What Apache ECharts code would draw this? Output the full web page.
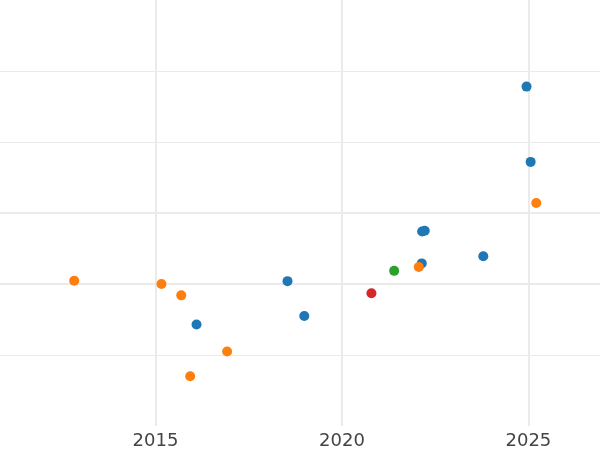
<!DOCTYPE html>
<html><head><meta charset="utf-8">
<script src="https://cdn.jsdelivr.net/npm/echarts@6/dist/echarts.min.js"></script>
<style>html,body{margin:0;padding:0;background:#fff}#c{width:600px;height:450px}</style>
</head><body><div id="c"></div>
<script>
const xTickLabels = [2015, 2020, 2025];
const yMajorGrid = [2, 3];
const yMinorGrid = [1, 4, 5];
const blueX = [2024.95, 2025.06, 2022.15, 2022.22, 2022.14, 2023.79, 2018.54, 2016.10, 2018.99];
const blueY = [4.78, 3.72, 2.74, 2.75, 2.29, 2.39, 2.04, 1.43, 1.55];
const orangeX = [2012.82, 2015.16, 2015.69, 2015.93, 2016.92, 2022.06, 2025.21];
const orangeY = [2.045, 2.0, 1.84, 0.70, 1.05, 2.24, 3.14];
const greenX = [2021.40];
const greenY = [2.185];
const redX = [2020.79];
const redY = [1.87];

const zip = (a, b) => a.map((v, i) => [v, b[i]]);
const gridColor = '#ebebeb';
const chart = echarts.init(document.getElementById('c'));
chart.setOption({
  animation: false,
  grid: {left: 0, right: 0, top: 0, bottom: 24, containLabel: false},
  xAxis: {
    type: 'value', min: 2010.83, max: 2026.92,
    axisLine: {show: false}, axisTick: {show: false}, splitLine: {show: false},
    axisLabel: {customValues: xTickLabels, color: '#444', fontSize: 18, fontFamily: 'DejaVu Sans', margin: 6,
      formatter: v => String(Math.round(v))}
  },
  yAxis: {
    type: 'value', min: 0, max: 6,
    axisLine: {show: false}, axisTick: {show: false}, axisLabel: {show: false}, splitLine: {show: false}
  },
  series: [
    {type: 'scatter', data: [], z: 0, silent: true,
      markLine: {silent: true, z: 0, symbol: 'none', label: {show: false}, animation: false,
        data: [
          ...xTickLabels.map(v => ({xAxis: v, lineStyle: {color: gridColor, width: 2, type: 'solid'}})),
          ...yMajorGrid.map(v => ({yAxis: v, lineStyle: {color: gridColor, width: 2, type: 'solid'}})),
          ...yMinorGrid.map(v => ({yAxis: v, lineStyle: {color: gridColor, width: 1, type: 'solid'}}))
        ]}},
    {type: 'scatter', z: 5, symbolSize: 10, itemStyle: {color: '#1f77b4', opacity: 1}, data: zip(blueX, blueY)},
    {type: 'scatter', z: 5, symbolSize: 10, itemStyle: {color: '#ff7f0e', opacity: 1}, data: zip(orangeX, orangeY)},
    {type: 'scatter', z: 5, symbolSize: 10, itemStyle: {color: '#2ca02c', opacity: 1}, data: zip(greenX, greenY)},
    {type: 'scatter', z: 5, symbolSize: 10, itemStyle: {color: '#d62728', opacity: 1}, data: zip(redX, redY)}
  ]
});
</script></body></html>
